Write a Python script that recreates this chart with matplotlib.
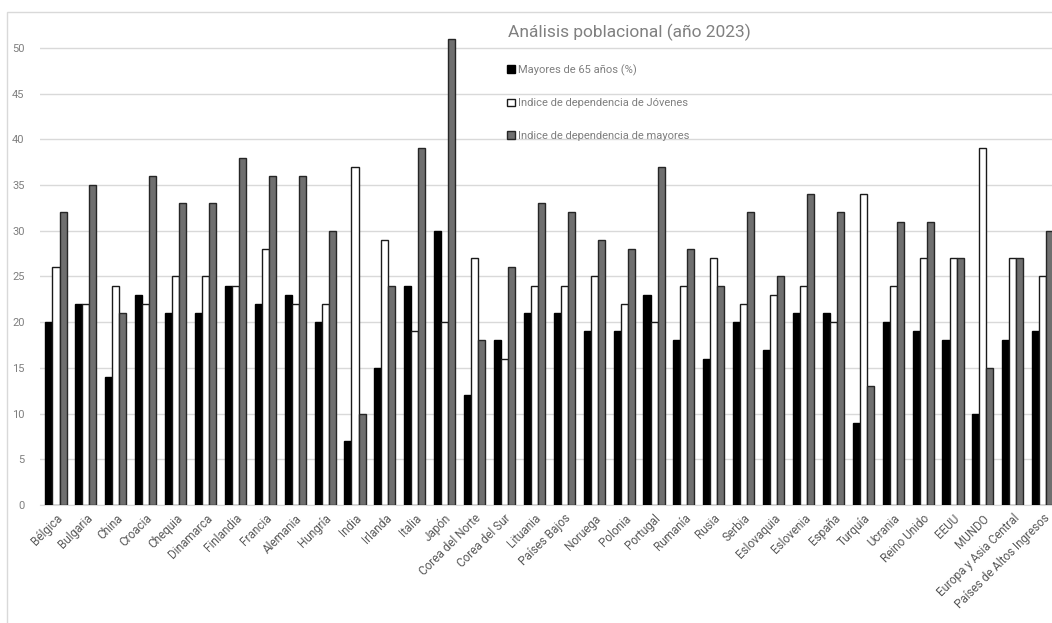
import numpy as np
import matplotlib
matplotlib.use('Agg')
import matplotlib.pyplot as plt
from matplotlib.patches import Rectangle

# datos (año 2023)
paises = ['Bélgica', 'Bulgaria', 'China', 'Croacia', 'Chequia', 'Dinamarca',
          'Finlandia', 'Francia', 'Alemania', 'Hungría', 'India', 'Irlanda',
          'Italia', 'Japón', 'Corea del Norte', 'Corea del Sur', 'Lituania',
          'Países Bajos', 'Noruega', 'Polonia', 'Portugal', 'Rumanía', 'Rusia',
          'Serbia', 'Eslovaquia', 'Eslovenia', 'España', 'Turquía', 'Ucrania',
          'Reino Unido', 'EEUU', 'MUNDO', 'Europa y Asia Central',
          'Países de Altos Ingresos']
mayores_65 = [20, 22, 14, 23, 21, 21, 24, 22, 23, 20, 7, 15, 24, 30, 12, 18, 21,
              21, 19, 19, 23, 18, 16, 20, 17, 21, 21, 9, 20, 19, 18, 10, 18, 19]
dep_jovenes = [26, 22, 24, 22, 25, 25, 24, 28, 22, 22, 37, 29, 19, 20, 27, 16, 24,
               24, 25, 22, 20, 24, 27, 22, 23, 24, 20, 34, 24, 27, 27, 39, 27, 25]
dep_mayores = [32, 35, 21, 36, 33, 33, 38, 36, 36, 30, 10, 24, 39, 51, 18, 26, 33,
               32, 29, 28, 37, 28, 24, 32, 25, 34, 32, 13, 31, 31, 27, 15, 27, 30]

etiquetas = ['Mayores de 65 años (%)',
             'Indice de dependencia de Jóvenes',
             'Indice de dependencia de mayores']

plt.rcParams['font.family'] = ['Roboto', 'DejaVu Sans']

W, H = 1052, 623
fig = plt.figure(figsize=(W / 100, H / 100), dpi=100)
ax = fig.add_axes([40 / W, 1 - 505 / H, 1 - 40 / W, (505 - 25) / H])

x = np.arange(len(paises))
ancho = 0.235
estilos = [('#000000', '#000000'), ('#ffffff', '#1a1a1a'), ('#6f6f6f', '#262626')]
series = [mayores_65, dep_jovenes, dep_mayores]
for i, (vals, (fc, ec), lab) in enumerate(zip(series, estilos, etiquetas)):
    ax.bar(x + (i - 1) * ancho, vals, width=ancho, color=fc, edgecolor=ec,
           linewidth=1.0, label=lab, zorder=3)

ax.set_ylim(0, 52.5)
ax.set_xlim(-0.535, 33.31)
ax.set_yticks(range(0, 51, 5))
ax.yaxis.grid(True, color='#d9d9d9', linewidth=1.0, zorder=0)
ax.set_axisbelow(True)
for s in ['top', 'right', 'left']:
    ax.spines[s].set_visible(False)
ax.spines['bottom'].set_color('#d9d9d9')
ax.tick_params(axis='y', length=0, pad=11, labelsize=8, labelcolor='#7f7f7f')
ax.tick_params(axis='x', length=0, pad=5, labelsize=8.5, labelcolor='#595959')
ax.set_xticks(x)
ax.set_xticklabels(paises, rotation=45, ha='right', rotation_mode='anchor')

fig.text(508 / W, 1 - 32 / H, 'Análisis poblacional (año 2023)', fontsize=12.5,
         color='#808080', va='center', ha='left')

leg = ax.legend(loc='upper left', bbox_to_anchor=(507 / W, 1 - 64 / H),
                bbox_transform=fig.transFigure, frameon=False, fontsize=8,
                labelspacing=2.05, handlelength=0.7, handleheight=0.7,
                handletextpad=0.3, borderpad=0, borderaxespad=0)
for t in leg.get_texts():
    t.set_color('#7f7f7f')

# marco exterior del grafico
fig.patches.append(Rectangle((7 / W, -0.05), 1.2, 1.05 - 12 / H, transform=fig.transFigure,
                             fill=False, edgecolor='#d9d9d9', linewidth=1.0))

fig.savefig('out.png', dpi=100)
